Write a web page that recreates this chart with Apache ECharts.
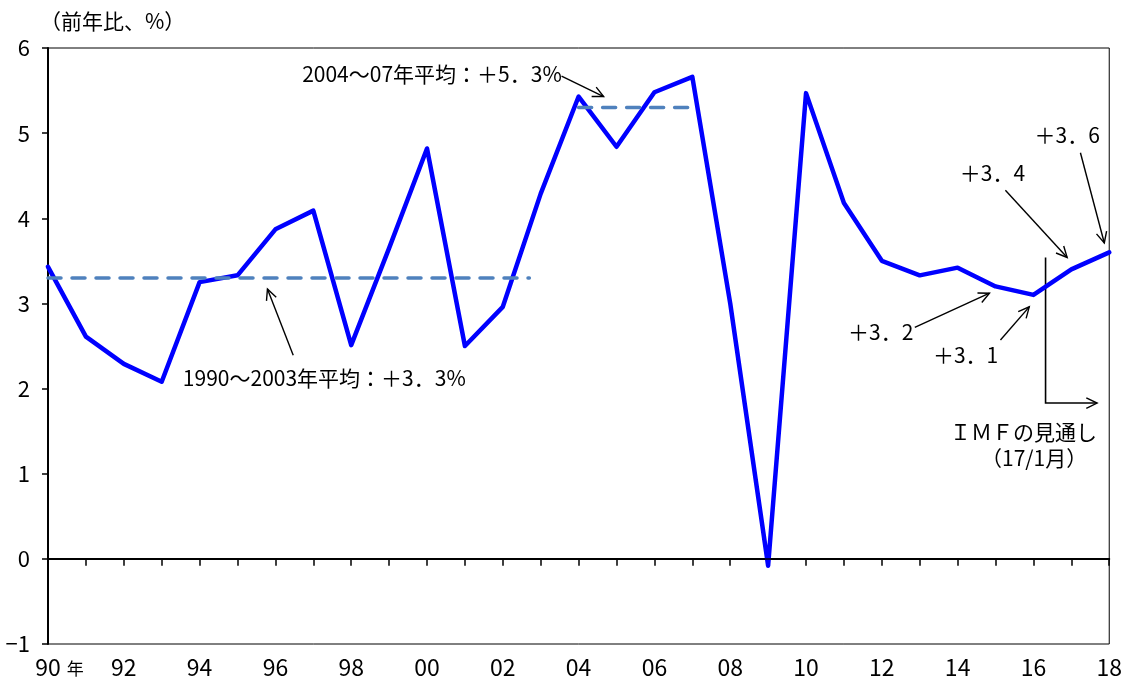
<!DOCTYPE html>
<html>
<head>
<meta charset="utf-8">
<script src="https://cdn.jsdelivr.net/npm/echarts@6/dist/echarts.min.js"></script>
<style>
  html, body { margin: 0; padding: 0; background: #fff; }
  #chart { width: 1125px; height: 681px; }
</style>
</head>
<body>
<div id="chart"></div>
<script>
// World real GDP growth, year on year (%), 1990-2018 (2017-18: IMF outlook, Jan 2017)
const years = [1990, 1991, 1992, 1993, 1994, 1995, 1996, 1997, 1998, 1999,
               2000, 2001, 2002, 2003, 2004, 2005, 2006, 2007, 2008, 2009,
               2010, 2011, 2012, 2013, 2014, 2015, 2016, 2017, 2018];
const growth = [3.43, 2.61, 2.29, 2.08, 3.25, 3.33, 3.87, 4.09, 2.51, 3.65,
                4.82, 2.50, 2.96, 4.29, 5.43, 4.84, 5.48, 5.66, 3.00, -0.08,
                5.47, 4.18, 3.50, 3.33, 3.42, 3.2, 3.1, 3.4, 3.6];

// Period averages
const avg1990to2003 = 3.3;
const avg2004to07 = 5.3;
const avg1Span = [1990, 2002.7];
const avg2Span = [2004, 2007];

// Axis ticks
const yTicks = { min: -1, max: 6, step: 1 };
const xTicks = { min: 1990, max: 2018, step: 1 };

// Annotation texts
const txtAvg1 = '1990～2003年平均：＋3．3%';
const txtAvg2 = '2004～07年平均：＋5．3%';
const txt15 = '＋3．2';
const txt16 = '＋3．1';
const txt17 = '＋3．4';
const txt18 = '＋3．6';
const txtImf1 = 'ＩＭＦの見通し';
const txtImf2 = '（17/1月）';
const unitText = '（前年比、%）';

const FONT = '"Liberation Sans Narrow", "Noto Sans CJK JP", sans-serif';
const CJK = '"Noto Sans CJK JP", sans-serif';

const chart = echarts.init(document.getElementById('chart'), null, { renderer: 'canvas' });

const mainData = years.map((y, i) => [y, growth[i]]);

chart.setOption({
  animation: false,
  backgroundColor: '#fff',
  grid: { left: 48, right: 13, top: 48, bottom: 37, show: true, borderColor: '#000', borderWidth: 1, backgroundColor: 'transparent' },
  xAxis: {
    type: 'value', min: xTicks.min, max: xTicks.max, interval: xTicks.step,
    axisLine: { show: true, lineStyle: { color: '#000', width: 2 } },
    axisTick: { show: true, inside: false, length: 7, lineStyle: { color: '#000', width: 1.5 } },
    splitLine: { show: false },
    axisLabel: {
      margin: 12, color: '#000', fontSize: 23, fontFamily: FONT,
      showMinLabel: true, showMaxLabel: true,
      formatter: function (v) {
        const y = Math.round(v);
        if (y % 2 !== 0) return '';
        const s = String(y % 100).padStart(2, '0');
        if (y === xTicks.min) return '{sp|}' + s + '{n|年}';
        return s;
      },
      rich: {
        sp: { width: 23 },
        n: { fontSize: 17, fontFamily: CJK, color: '#000', padding: [3, 0, 0, 6] }
      }
    }
  },
  yAxis: {
    type: 'value', min: yTicks.min, max: yTicks.max, interval: yTicks.step,
    axisLine: { show: true, lineStyle: { color: '#000', width: 2 } },
    axisTick: { show: true, inside: false, length: 6, lineStyle: { color: '#000', width: 1.5 } },
    splitLine: { show: false },
    axisLabel: { margin: 18, color: '#000', fontSize: 22, fontFamily: FONT,
      formatter: v => (v < 0 ? '−' + Math.abs(v) : String(v)) }
  },
  series: [
    {
      type: 'line', data: mainData, symbol: 'none', z: 3,
      lineStyle: { color: '#0000FF', width: 4.5, join: 'round', cap: 'round' },
      markLine: {
        silent: true, symbol: ['none', 'none'], label: { show: false },
        lineStyle: { color: '#000', width: 1.5, type: 'solid' },
        data: [{ yAxis: 0 }]
      }
    },
    {
      type: 'line', symbol: 'none', z: 4,
      data: [[avg1Span[0], avg1990to2003], [avg1Span[1], avg1990to2003]],
      lineStyle: { color: '#4F81BD', width: 3.5, type: [13, 11], cap: 'round' }
    },
    {
      type: 'line', symbol: 'none', z: 4,
      data: [[avg2Span[0], avg2004to07], [avg2Span[1], avg2004to07]],
      lineStyle: { color: '#4F81BD', width: 3.5, type: [13, 11], cap: 'round' }
    }
  ]
});

// Annotations placed in data coordinates, converted to pixels
const labels = [
  { text: txtAvg2, at: [2000.13, 5.69], align: 'center' },
  { text: txtAvg1, at: [1997.29, 2.12], align: 'center' },
  { text: txt18, at: [2016.89, 4.98], align: 'center' },
  { text: txt17, at: [2014.92, 4.53], align: 'center' },
  { text: txt15, at: [2011.97, 2.66], align: 'center' },
  { text: txt16, at: [2014.21, 2.39], align: 'center' },
  { text: txtImf1, at: [2017.68, 1.49], align: 'right' },
  { text: txtImf2, at: [2017.42, 1.19], align: 'right' }
];
const arrows = [
  [[2003.55, 5.67], [2004.66, 5.43]],
  [[1996.47, 2.39], [1995.79, 3.17]],
  [[2017.24, 4.77], [2017.87, 3.71]],
  [[2015.26, 4.33], [2016.89, 3.54]],
  [[2012.87, 2.72], [2014.84, 3.12]],
  [[2015.13, 2.57], [2015.89, 2.96]]
];
const imfBracket = [[2016.32, 3.54], [2016.32, 1.83], [2017.68, 1.83]];

function toPx(p) { return chart.convertToPixel({ gridIndex: 0 }, p); }

function arrowHead(from, to) {
  const a = Math.atan2(to[1] - from[1], to[0] - from[0]);
  const L = 12, th = 0.45;
  return [
    [to[0] - L * Math.cos(a - th), to[1] - L * Math.sin(a - th)],
    to,
    [to[0] - L * Math.cos(a + th), to[1] - L * Math.sin(a + th)]
  ];
}

const g = [];
g.push({ type: 'text', left: 40, top: 11, style: { text: unitText, font: '21px ' + CJK, fill: '#000' } });

labels.forEach(l => {
  const p = toPx(l.at);
  g.push({ type: 'text', x: p[0], y: p[1], style: { text: l.text, font: '21px ' + FONT, fill: '#000', align: l.align, verticalAlign: 'middle' } });
});

arrows.forEach(a => {
  const p1 = toPx(a[0]), p2 = toPx(a[1]);
  g.push({ type: 'line', shape: { x1: p1[0], y1: p1[1], x2: p2[0], y2: p2[1] }, style: { stroke: '#000', lineWidth: 1.4 } });
  g.push({ type: 'polyline', shape: { points: arrowHead(p1, p2) }, style: { stroke: '#000', lineWidth: 1.4, fill: null } });
});

const bp = imfBracket.map(toPx);
g.push({ type: 'polyline', shape: { points: bp }, style: { stroke: '#000', lineWidth: 1.6, fill: null } });
g.push({ type: 'polyline', shape: { points: arrowHead(bp[1], bp[2]) }, style: { stroke: '#000', lineWidth: 1.4, fill: null } });

chart.setOption({ graphic: g });
</script>
</body>
</html>
